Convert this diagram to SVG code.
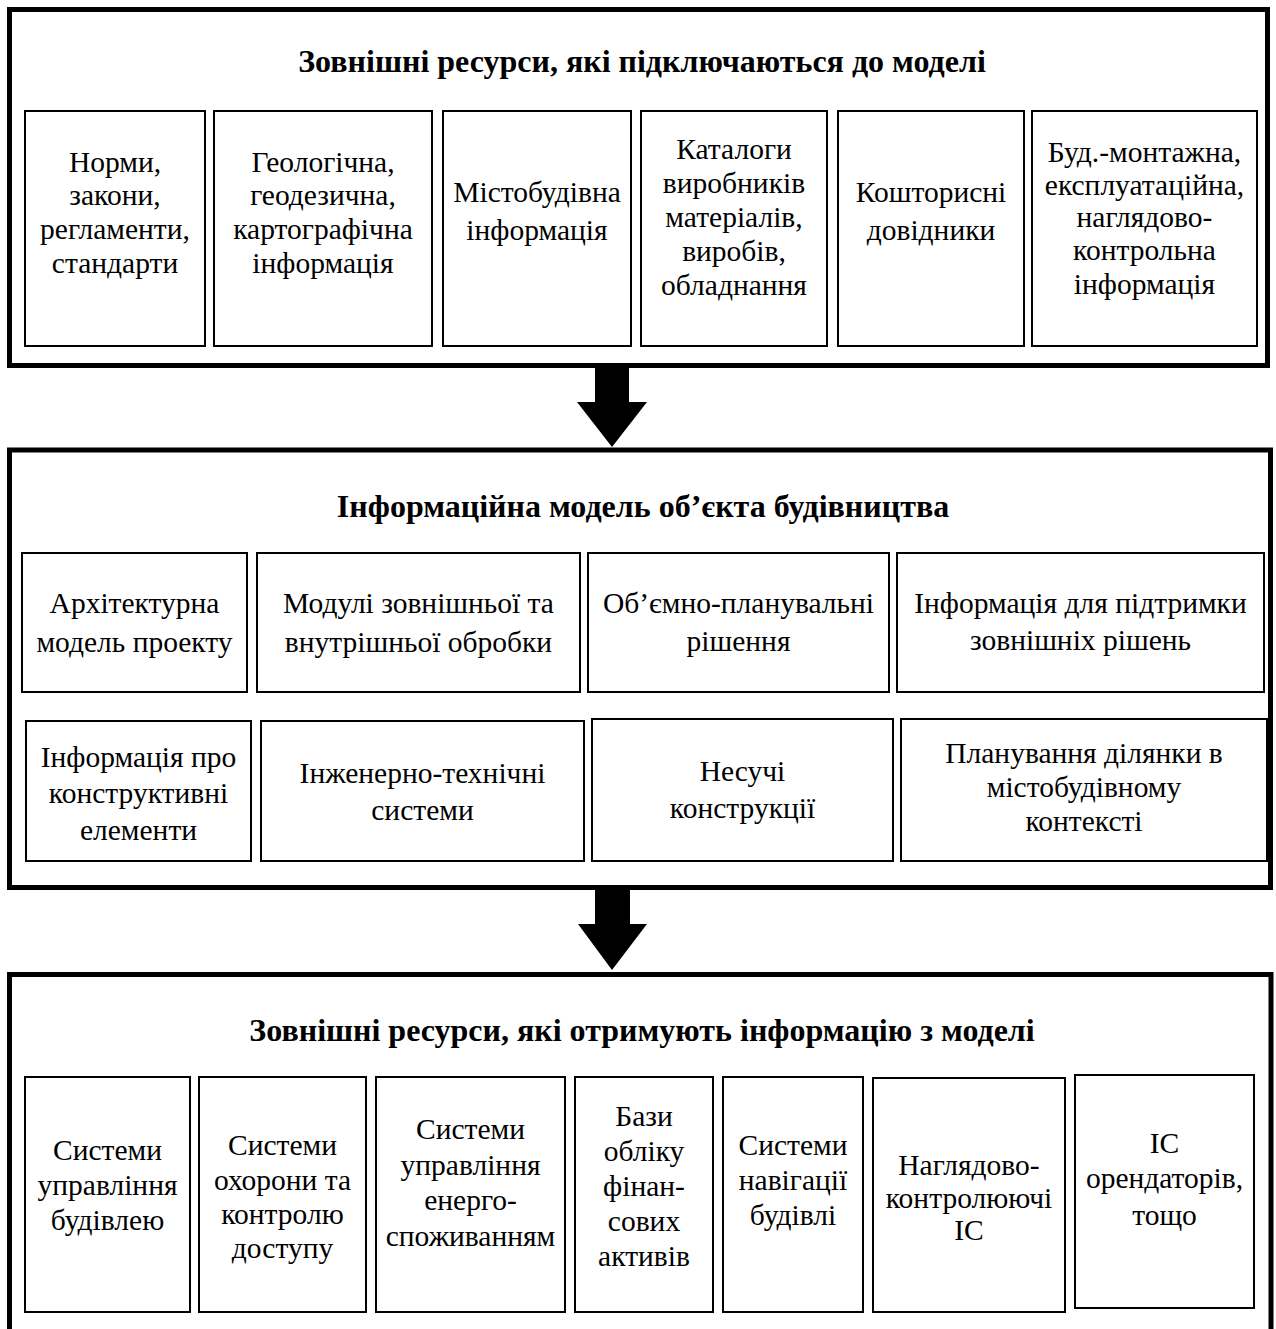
<svg xmlns="http://www.w3.org/2000/svg" width="1276" height="1329" viewBox="0 0 1276 1329">
<style>
.outer{fill:none;stroke:#000;stroke-width:5}
.box{fill:#fff;stroke:#000;stroke-width:2}
.t{font-family:"Liberation Serif","Times New Roman",serif;font-size:29.5px;fill:#000;text-anchor:middle}
.h{font-family:"Liberation Serif","Times New Roman",serif;font-size:32px;font-weight:bold;fill:#000;text-anchor:middle}
.arr{fill:#000;stroke:none}
</style>
<rect width="1276" height="1329" fill="#fff"/>

<g id="group-top">
  <rect class="outer" x="9.5" y="9.5" width="1258" height="356"/>
  <text class="h" x="642" y="72">Зовнішні ресурси, які підключаються до моделі</text>
</g>
<g id="n-normy">
  <rect class="box" x="25" y="111" width="180" height="235"/>
  <text class="t" x="115" y="172">Норми,</text>
  <text class="t" x="115" y="205">закони,</text>
  <text class="t" x="115" y="239">регламенти,</text>
  <text class="t" x="115" y="273">стандарти</text>
</g>
<g id="n-geo">
  <rect class="box" x="214" y="111" width="218" height="235"/>
  <text class="t" x="323" y="172">Геологічна,</text>
  <text class="t" x="323" y="205">геодезична,</text>
  <text class="t" x="323" y="239">картографічна</text>
  <text class="t" x="323" y="273">інформація</text>
</g>
<g id="n-misto">
  <rect class="box" x="443" y="111" width="188" height="235"/>
  <text class="t" x="537" y="202">Містобудівна</text>
  <text class="t" x="537" y="240">інформація</text>
</g>
<g id="n-katalogy">
  <rect class="box" x="641" y="111" width="186" height="235"/>
  <text class="t" x="734" y="159">Каталоги</text>
  <text class="t" x="734" y="193">виробників</text>
  <text class="t" x="734" y="227">матеріалів,</text>
  <text class="t" x="734" y="261">виробів,</text>
  <text class="t" x="734" y="295">обладнання</text>
</g>
<g id="n-koshtor">
  <rect class="box" x="838" y="111" width="186" height="235"/>
  <text class="t" x="931" y="202">Кошторисні</text>
  <text class="t" x="931" y="240">довідники</text>
</g>
<g id="n-bud">
  <rect class="box" x="1032" y="111" width="225" height="235"/>
  <text class="t" x="1144.5" y="162">Буд.-монтажна,</text>
  <text class="t" x="1144.5" y="195">експлуатаційна,</text>
  <text class="t" x="1144.5" y="227">наглядово-</text>
  <text class="t" x="1144.5" y="260">контрольна</text>
  <text class="t" x="1144.5" y="294">інформація</text>
</g>

<g id="group-middle">
  <rect class="outer" x="9.5" y="450" width="1261" height="437.5"/>
  <text class="h" x="643" y="517">Інформаційна модель об’єкта будівництва</text>
</g>
<g id="n-arch">
  <rect class="box" x="22" y="553" width="225" height="139"/>
  <text class="t" x="134.5" y="613">Архітектурна</text>
  <text class="t" x="134.5" y="652">модель проекту</text>
</g>
<g id="n-moduli">
  <rect class="box" x="257" y="553" width="323" height="139"/>
  <text class="t" x="418.5" y="613">Модулі зовнішньої та</text>
  <text class="t" x="418.5" y="652">внутрішньої обробки</text>
</g>
<g id="n-obyemno">
  <rect class="box" x="588" y="553" width="301" height="139"/>
  <text class="t" x="738.5" y="613">Об’ємно-планувальні</text>
  <text class="t" x="738.5" y="651">рішення</text>
</g>
<g id="n-pidtrymky">
  <rect class="box" x="897" y="553" width="367" height="139"/>
  <text class="t" x="1080.5" y="613">Інформація для підтримки</text>
  <text class="t" x="1080.5" y="650">зовнішніх рішень</text>
</g>
<g id="n-konstr">
  <rect class="box" x="26" y="721" width="225" height="140"/>
  <text class="t" x="138.5" y="767">Інформація про</text>
  <text class="t" x="138.5" y="803">конструктивні</text>
  <text class="t" x="138.5" y="840">елементи</text>
</g>
<g id="n-inzh">
  <rect class="box" x="261" y="721" width="323" height="140"/>
  <text class="t" x="422.5" y="783">Інженерно-технічні</text>
  <text class="t" x="422.5" y="820">системи</text>
</g>
<g id="n-nesuchi">
  <rect class="box" x="592" y="719" width="301" height="142"/>
  <text class="t" x="742.5" y="781">Несучі</text>
  <text class="t" x="742.5" y="818">конструкції</text>
</g>
<g id="n-planuv">
  <rect class="box" x="901" y="719" width="366" height="142"/>
  <text class="t" x="1084" y="763">Планування ділянки в</text>
  <text class="t" x="1084" y="797">містобудівному</text>
  <text class="t" x="1084" y="831">контексті</text>
</g>

<g id="group-bottom">
  <path class="outer" d="M9.5,1329 V974.5 H1271 V1329"/>
  <text class="h" x="642" y="1041">Зовнішні ресурси, які отримують інформацію з моделі</text>
</g>
<g id="n-upr">
  <rect class="box" x="25" y="1077" width="165" height="235"/>
  <text class="t" x="107.5" y="1160">Системи</text>
  <text class="t" x="107.5" y="1195">управління</text>
  <text class="t" x="107.5" y="1230">будівлею</text>
</g>
<g id="n-okhor">
  <rect class="box" x="199" y="1077" width="167" height="235"/>
  <text class="t" x="282.5" y="1155">Системи</text>
  <text class="t" x="282.5" y="1190">охорони та</text>
  <text class="t" x="282.5" y="1224">контролю</text>
  <text class="t" x="282.5" y="1258">доступу</text>
</g>
<g id="n-energo">
  <rect class="box" x="376" y="1077" width="189" height="235"/>
  <text class="t" x="470.5" y="1139">Системи</text>
  <text class="t" x="470.5" y="1175">управління</text>
  <text class="t" x="470.5" y="1210">енерго-</text>
  <text class="t" x="470.5" y="1246">споживанням</text>
</g>
<g id="n-bazy">
  <rect class="box" x="575" y="1077" width="138" height="235"/>
  <text class="t" x="644" y="1126">Бази</text>
  <text class="t" x="644" y="1161">обліку</text>
  <text class="t" x="644" y="1196">фінан-</text>
  <text class="t" x="644" y="1231">сових</text>
  <text class="t" x="644" y="1266">активів</text>
</g>
<g id="n-navig">
  <rect class="box" x="723" y="1077" width="140" height="235"/>
  <text class="t" x="793" y="1155">Системи</text>
  <text class="t" x="793" y="1190">навігації</text>
  <text class="t" x="793" y="1225">будівлі</text>
</g>
<g id="n-naglyad">
  <rect class="box" x="873" y="1078" width="192" height="234"/>
  <text class="t" x="969" y="1175">Наглядово-</text>
  <text class="t" x="969" y="1208">контролюючі</text>
  <text class="t" x="969" y="1240">ІС</text>
</g>
<g id="n-orend">
  <rect class="box" x="1075" y="1075" width="179" height="233"/>
  <text class="t" x="1164.5" y="1153">ІС</text>
  <text class="t" x="1164.5" y="1188">орендаторів,</text>
  <text class="t" x="1164.5" y="1225">тощо</text>
</g>

<g id="connectors">
  <polygon class="arr" points="595,367 629,367 629,402 647,402 612,447 577,402 595,402"/>
  <polygon class="arr" points="595,889 630,889 630,924 647,924 612,970 578,924 595,924"/>
</g>
</svg>
